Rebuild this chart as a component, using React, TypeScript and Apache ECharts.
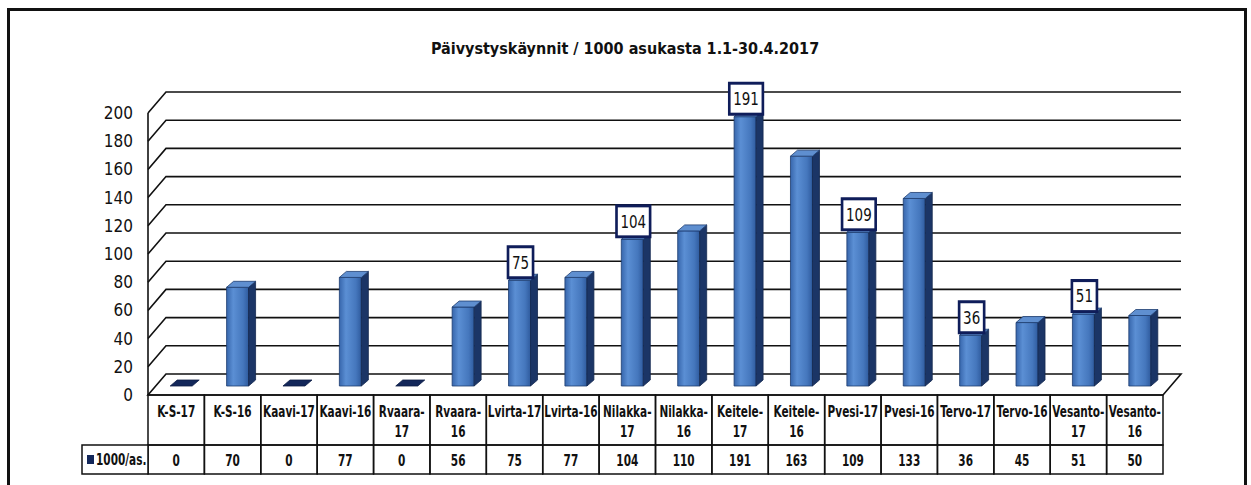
import React, { useEffect, useRef } from "react";
import * as echarts from "echarts";

const chartTitle = "Päivystyskäynnit / 1000 asukasta 1.1-30.4.2017";
const seriesName = "1000/as.";
const categories = [
  "K-S-17", "K-S-16", "Kaavi-17", "Kaavi-16", "Rvaara-17", "Rvaara-16",
  "Lvirta-17", "Lvirta-16", "Nilakka-17", "Nilakka-16", "Keitele-17", "Keitele-16",
  "Pvesi-17", "Pvesi-16", "Tervo-17", "Tervo-16", "Vesanto-17", "Vesanto-16",
];
const tableLabels = [
  "K-S-17", "K-S-16", "Kaavi-17", "Kaavi-16", "Rvaara-\n17", "Rvaara-\n16",
  "Lvirta-17", "Lvirta-16", "Nilakka-\n17", "Nilakka-\n16", "Keitele-\n17", "Keitele-\n16",
  "Pvesi-17", "Pvesi-16", "Tervo-17", "Tervo-16", "Vesanto-\n17", "Vesanto-\n16",
];
const values = [0, 70, 0, 77, 0, 56, 75, 77, 104, 110, 191, 163, 109, 133, 36, 45, 51, 50];
const boxedLabels = [false, false, false, false, false, false, true, false, true, false, true, false, true, false, true, false, true, false];
const yTicks = [0, 20, 40, 60, 80, 100, 120, 140, 160, 180, 200];

const FONT = "'Liberation Sans Narrow', 'DejaVu Sans Condensed', 'Open Sans', sans-serif";
const NARROW = 0.78;
const WALL_DX = 18;
const WALL_DY = 21;
const BAR_SHIFT_Y = 9;
const BAR_W = 22;
const BAR_DX = 7;
const BAR_DY = 6;

export default function App() {
  const ref = useRef<HTMLDivElement>(null);
  useEffect(() => {
    if (!ref.current) return;
    const chart = echarts.init(ref.current, undefined, { renderer: "svg" });
    const yMax = yTicks[yTicks.length - 1];

    const wallSeries = {
      type: "custom",
      z: 1,
      silent: true,
      clip: false,
      data: yTicks.map((t) => [0, t]),
      renderItem: (params: any, api: any) => {
        const t = api.value(1);
        const cs = params.coordSys;
        const x0 = cs.x;
        const x1 = cs.x + cs.width;
        const y = api.coord([0, t])[1];
        const line = { stroke: "#111", lineWidth: 1.6, fill: null };
        const children: any[] = [];
        if (t === 0) {
          children.push({
            type: "polygon",
            shape: { points: [[x0, y], [x1, y], [x1 + WALL_DX, y - WALL_DY], [x0 + WALL_DX, y - WALL_DY]] },
            style: { fill: "#fff", stroke: "#111", lineWidth: 1.6 },
          });
          const yTop = api.coord([0, yMax])[1];
          children.push({ type: "line", shape: { x1: x0, y1: y, x2: x0, y2: yTop }, style: line });
        } else {
          children.push({
            type: "polyline",
            shape: { points: [[x0, y], [x0 + WALL_DX, y - WALL_DY], [x1 + WALL_DX, y - WALL_DY]] },
            style: line,
          });
        }
        return { type: "group", children };
      },
    };

    const barSeries = {
      type: "custom",
      name: seriesName,
      z: 3,
      clip: false,
      data: values.map((v, i) => [i, v]),
      renderItem: (params: any, api: any) => {
        const i = api.value(0);
        const v = api.value(1);
        const cx = api.coord([i, 0])[0];
        const yb = api.coord([i, 0])[1] - BAR_SHIFT_Y;
        const yt = api.coord([i, v])[1] - BAR_SHIFT_Y;
        const xl = cx - 6;
        const xr = xl + BAR_W;
        const children: any[] = [];
        if (v > 0) {
          children.push({
            type: "rect",
            shape: { x: xl, y: yt, width: BAR_W, height: yb - yt },
            style: {
              fill: new echarts.graphic.LinearGradient(0, 0, 1, 0, [
                { offset: 0, color: "#3766ac" },
                { offset: 0.3, color: "#5b8fd4" },
                { offset: 0.75, color: "#4577bd" },
                { offset: 1, color: "#2f5b9e" },
              ]),
              stroke: "#1d3c70",
              lineWidth: 0.8,
            },
          });
          children.push({
            type: "polygon",
            shape: { points: [[xr, yt], [xr + BAR_DX, yt - BAR_DY], [xr + BAR_DX, yb - BAR_DY], [xr, yb]] },
            style: { fill: "#1b3566", stroke: "#14284f", lineWidth: 0.8 },
          });
          children.push({
            type: "polygon",
            shape: { points: [[xl, yt], [xr, yt], [xr + BAR_DX, yt - BAR_DY], [xl + BAR_DX, yt - BAR_DY]] },
            style: { fill: "#5f8fd0", stroke: "#1d3c70", lineWidth: 0.8 },
          });
        } else {
          children.push({
            type: "polygon",
            shape: { points: [[xl, yt], [xr, yt], [xr + BAR_DX, yt - BAR_DY], [xl + BAR_DX, yt - BAR_DY]] },
            style: { fill: "#13275a", stroke: "#0d1d45", lineWidth: 0.8 },
          });
        }
        if (boxedLabels[i] && v > 0) {
          children.push({
            type: "text",
            x: xl + BAR_W / 2 + 1,
            y: yt - 4,
            scaleX: 0.88,
            style: {
              text: String(v),
              fontFamily: FONT,
              fontSize: 17,
              fill: "#111",
              align: "center",
              verticalAlign: "bottom",
              backgroundColor: "#fff",
              borderColor: "#0f1d5a",
              borderWidth: 3,
              padding: [6, 3, 5, 3],
            },
          });
        }
        return { type: "group", children };
      },
    };

    const tableSeries = {
      type: "custom",
      z: 4,
      silent: true,
      clip: false,
      data: values.map((v, i) => [i, v]),
      renderItem: (params: any, api: any) => {
        const i = api.value(0);
        const v = api.value(1);
        const cx = api.coord([i, 0])[0];
        const y0 = api.coord([i, 0])[1];
        const bw = api.size([1, 0])[0];
        const x = cx - bw / 2;
        const rowA = 50;
        const rowB = 29;
        const border = { fill: null, stroke: "#111", lineWidth: 1.5 };
        return {
          type: "group",
          children: [
            { type: "rect", shape: { x, y: y0, width: bw, height: rowA }, style: border },
            { type: "rect", shape: { x, y: y0 + rowA, width: bw, height: rowB }, style: border },
            {
              type: "text",
              x: cx,
              y: y0 + 7,
              scaleX: NARROW,
              style: {
                text: tableLabels[i],
                fontFamily: FONT,
                fontSize: 15,
                fontWeight: "bold",
                fill: "#111",
                align: "center",
                verticalAlign: "top",
                lineHeight: 20,
              },
            },
            {
              type: "text",
              x: cx,
              y: y0 + rowA + rowB / 2 + 1,
              scaleX: NARROW,
              style: {
                text: String(v),
                fontFamily: FONT,
                fontSize: 15,
                fontWeight: "bold",
                fill: "#111",
                align: "center",
                verticalAlign: "middle",
              },
            },
          ],
        };
      },
    };

    chart.setOption({
      animation: false,
      title: {
        text: chartTitle,
        left: 620,
        top: 35,
        textAlign: "center",
        textStyle: { fontFamily: FONT, fontSize: 16, fontWeight: "bold", color: "#111" },
      },
      grid: { left: 148, right: 88, top: 113, bottom: 90 },
      xAxis: {
        type: "category",
        data: categories,
        axisLine: { show: false },
        axisTick: { show: false },
        axisLabel: { show: false },
        splitLine: { show: false },
      },
      yAxis: {
        type: "value",
        min: 0,
        max: 200,
        interval: 20,
        axisLine: { show: false },
        axisTick: { show: false },
        splitLine: { show: false },
        axisLabel: { fontFamily: FONT, fontSize: 17, color: "#111", margin: 15 },
      },
      graphic: [
        {
          type: "rect",
          shape: { x: 8.5, y: 9.5, width: 1237, height: 500 },
          style: { fill: null, stroke: "#111", lineWidth: 3 },
          z: 10,
        },
        {
          type: "rect",
          shape: { x: 82, y: 445, width: 66, height: 29 },
          style: { fill: "#fff", stroke: "#111", lineWidth: 1.5 },
          z: 10,
        },
        {
          type: "rect",
          shape: { x: 87, y: 455, width: 7, height: 9 },
          style: { fill: "#13275a" },
          z: 11,
        },
        {
          type: "text",
          x: 96,
          y: 460,
          scaleX: NARROW,
          style: {
            text: seriesName,
            fontFamily: FONT,
            fontSize: 15,
            fontWeight: "bold",
            fill: "#111",
            verticalAlign: "middle",
          },
          z: 11,
        },
      ],
      series: [wallSeries, barSeries, tableSeries],
    });
    return () => chart.dispose();
  }, []);
  return (
    <div
      ref={ref}
      style={{ position: "fixed", left: 0, top: 0, width: 1251, height: 485, background: "#fff" }}
    />
  );
}
